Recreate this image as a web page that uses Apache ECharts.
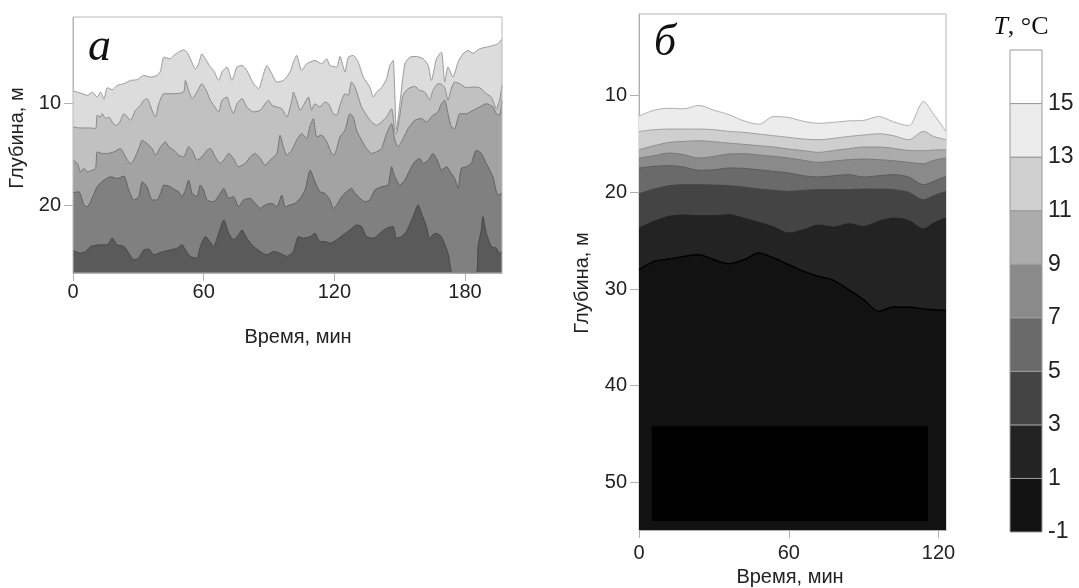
<!DOCTYPE html>
<html>
<head>
<meta charset="utf-8">
<script src="https://cdn.jsdelivr.net/npm/echarts@6/dist/echarts.min.js"></script>
<style>
html,body{margin:0;padding:0;background:#fff;}
#c{width:1079px;height:588px;}
</style>
</head>
<body>
<div id="c"></div>
<script>
// ---------- Panel а : isotherm depths [time, depth] ----------
const aL1 = [[0,8.76],[3.5,8.96],[6.6,9.18],[8.9,8.86],[11.1,9.35],[12.7,8.86],[14.2,9.57],[15.7,8.43],[18,8.63],[20.3,8.21],[23.4,8.04],[26.4,7.72],[29.5,7.65],[32.5,7.23],[35.6,7.39],[38.6,7.23],[40.2,6.81],[41.7,5.44],[44.7,5.6],[46.3,5.27],[48.5,4.95],[50.8,4.72],[52.4,4.95],[53.9,5.6],[56.2,6.58],[57.7,6.09],[59.2,5.11],[60.8,5.6],[63.1,6.41],[64.6,6.74],[66.9,7.72],[68.4,6.9],[70.7,6.41],[73,7.72],[75.3,6.41],[77.6,6.25],[79.8,6.74],[82.9,8.04],[85.2,8.53],[87.5,7.07],[89,6.25],[91.3,7.07],[93.6,7.88],[96.6,7.72],[99.7,6.9],[101.2,5.93],[102.7,5.27],[105,6.74],[107.3,6.09],[111.1,5.76],[114.2,6.09],[116.5,5.6],[118,6.25],[121.1,6.41],[122.6,5.37],[124.9,6.9],[126.4,5.44],[128.7,5.27],[131,5.93],[133.3,7.39],[136.3,8.37],[137.9,9.35],[139.4,8.86],[141.7,8.43],[144,7.55],[145.5,6.25],[147,5.76],[148.5,12.6],[150.1,10.0],[152.4,6.09],[154.7,5.44],[157.7,5.37],[160.8,5.6],[163.1,6.25],[164.6,7.72],[166.9,5.6],[169.2,4.95],[170.7,7.88],[172.2,6.41],[174.5,7.39],[176.8,5.93],[179.1,5.11],[181.4,4.79],[183.7,5.05],[186.7,4.62],[189.8,4.46],[192.8,4.3],[195.1,4.13],[197,3.65]];
const aL2 = [[0,12.28],[3.5,12.38],[8.1,12.38],[10.4,12.44],[11.1,11.14],[12.7,11.3],[13.4,10.98],[15,11.46],[16.5,11.3],[18,11.79],[19.5,12.12],[21.1,11.95],[23.4,10.98],[24.9,11.3],[26.4,11.63],[28.7,10.65],[31,10.16],[32.5,9.67],[34,9.51],[36.3,10.65],[37.9,11.3],[39.4,10.0],[41.7,9.02],[46.3,9.02],[50.8,8.86],[51.6,7.72],[53.1,8.69],[54.7,9.51],[56.9,8.86],[59.2,8.04],[60.8,8.53],[63.1,9.67],[64.6,10.16],[66.9,10.81],[68.4,9.67],[70.7,9.35],[72.2,10.32],[73.7,10.98],[75.3,10.0],[77.6,9.51],[79.8,10.32],[82.9,10.81],[86,10.65],[88.2,10.0],[89.8,9.67],[91.3,10.16],[93.6,10.32],[95.9,10.49],[98.2,11.3],[100.5,9.67],[101.2,8.86],[102.7,9.67],[104.3,10.65],[105.8,10.16],[108.1,9.35],[109.6,10.65],[111.1,10.0],[113.4,10.32],[115.7,9.83],[117.3,10.0],[119.5,10.98],[121.1,11.14],[122.6,10.16],[124.9,9.02],[126.4,9.18],[127.9,7.88],[129.5,8.37],[131,9.35],[132.5,10.32],[134.8,11.14],[137.1,11.79],[139.4,12.12],[141.7,11.79],[144,11.3],[146.3,10.49],[147.8,12.77],[148.5,12.93],[150.1,11.14],[151.6,9.18],[153.9,8.53],[156.9,8.3],[159.2,8.69],[161.5,8.86],[163.8,9.61],[165.3,8.69],[167.6,8.04],[169.2,8.1],[170.7,8.43],[172.2,9.67],[173.7,8.53],[175.3,7.88],[177.6,8.04],[180.6,8.43],[183.7,8.37],[186.7,8.43],[189.8,9.02],[192.1,9.35],[194.4,10.49],[195.9,9.67],[197,8.21]];
const aL3 = [[0,15.54],[2,15.86],[3.5,16.68],[5,16.35],[6.6,16.68],[8.9,16.51],[10.4,16.35],[11.1,14.72],[13.4,14.88],[15.7,14.88],[18.8,14.72],[21.8,14.4],[24.1,15.21],[26.4,15.86],[27.9,15.54],[30.2,14.4],[31.8,13.58],[34,13.91],[36.3,14.4],[37.9,15.05],[40.2,14.23],[42.4,13.74],[44,14.23],[46.3,14.56],[48.5,15.05],[50.8,15.21],[53.1,14.23],[54.7,14.56],[56.9,15.54],[59.2,15.21],[61.5,14.56],[63.1,14.4],[65.3,15.21],[67.6,15.86],[69.2,15.54],[71.5,14.88],[73.7,15.37],[76,16.19],[79.1,15.86],[81.4,15.21],[83.7,14.88],[86,15.37],[88.2,16.02],[90.5,15.54],[93.6,14.88],[95.1,13.09],[96.6,14.23],[98.2,15.05],[100.5,14.56],[102.7,13.58],[105,12.93],[107.3,13.42],[108.9,12.12],[110.4,11.46],[111.9,13.25],[114.2,13.09],[116.5,13.74],[118.8,14.88],[119.8,15.05],[121.1,14.4],[122.6,13.25],[124.9,12.6],[127.2,10.98],[128.7,11.3],[130.2,12.6],[132.5,13.58],[134.8,14.4],[137.1,14.88],[139.4,14.72],[141.7,14.4],[144,12.93],[146.3,11.95],[147.8,13.58],[149.3,14.23],[151.6,13.42],[153.9,12.44],[156.9,11.63],[160,11.46],[162.3,11.79],[165.3,11.14],[167.6,10.81],[169.2,10.0],[170.7,9.67],[172.2,10.98],[173.7,12.28],[175.3,12.44],[177.6,10.98],[180.6,10.98],[183.7,10.65],[186.7,10.32],[189.8,10.0],[192.8,10.32],[194.4,10.98],[195.9,11.14],[197,9.67]];
const aL4 = [[0,18.73],[2.7,18.63],[5,19.93],[6.6,20.1],[8.1,19.61],[11.1,18.14],[14.2,17.49],[17.3,17.16],[20.3,17.33],[23.4,17.1],[25.6,18.47],[27.9,19.44],[30.2,19.12],[31.8,17.65],[34,18.14],[36.3,19.44],[38.6,19.44],[40.2,18.79],[41.7,17.98],[44.7,18.14],[47,18.47],[48.5,18.63],[50.1,19.12],[51.6,18.47],[53.1,17.49],[54.7,18.79],[56.9,19.12],[58.5,17.98],[60,18.47],[61.5,19.44],[64.6,19.61],[67.6,18.79],[69.2,18.3],[71.5,19.28],[73.7,19.12],[76,20.1],[78.3,19.44],[81.4,19.28],[83.7,19.77],[86,20.26],[88.2,19.93],[91.3,19.77],[93.6,20.1],[95.9,18.96],[97.4,20.1],[99.7,19.93],[102,19.77],[104.3,19.28],[106.6,18.47],[108.9,16.51],[111.1,17.65],[113.4,18.63],[115.7,18.79],[118,19.44],[119.5,20.26],[121.1,19.93],[123.4,19.12],[125.6,18.63],[127.9,18.3],[129.5,18.79],[131.8,19.28],[134,19.61],[136.3,19.44],[138.6,18.47],[141.7,18.14],[144.7,17.98],[146.3,16.19],[147.8,17.16],[150.1,17.98],[152.4,17.49],[154.7,16.51],[156.9,15.7],[159.2,15.37],[160.8,15.86],[163.1,15.54],[165.3,14.88],[167.6,15.7],[169.2,16.51],[171.5,16.19],[173.7,16.84],[175.3,17.33],[176.8,18.3],[178.3,16.35],[180.6,16.19],[182.9,15.86],[185.2,14.56],[187.5,14.88],[189.8,15.86],[192.8,17.16],[195.1,18.96],[197,18.79]];
const aL5 = [[0,24.4],[3.5,24.66],[5.8,24.49],[8.1,24.0],[12.7,23.84],[15.7,23.84],[18,23.19],[20.3,23.84],[23.4,24.0],[25.6,24.66],[27.9,25.31],[30.2,25.14],[32.5,24.33],[34.8,24.26],[37.1,24.82],[39.4,24.66],[41.7,24.49],[44.7,24.33],[47.8,24.17],[50.1,23.84],[51.6,24.33],[53.9,24.98],[56.9,25.14],[58.5,24.0],[60.8,23.03],[62.3,23.35],[64.6,24.0],[66.9,22.7],[69.2,21.4],[71.5,22.7],[73.7,23.35],[76,22.86],[77.6,22.38],[79.8,23.19],[82.9,24.0],[86,24.49],[89,24.82],[92.1,24.49],[95.1,24.66],[98.2,24.98],[101.2,24.49],[103.5,23.03],[105.8,23.19],[108.9,23.03],[111.1,22.7],[113.4,23.52],[115.7,23.52],[118,23.68],[121.1,23.35],[124.1,22.86],[127.2,22.38],[130.2,21.89],[132.5,22.05],[134.8,23.03],[137.9,23.19],[140.9,22.7],[144,22.21],[147,22.05],[148.5,23.19],[150.8,23.03],[153.1,22.54],[156.2,21.07],[158.5,19.93],[160,20.75],[162.3,22.05],[163.8,23.19],[166.1,22.7],[168.4,22.86],[169.9,23.35],[172.2,24.66],[173.7,26.45],[174.5,26.6],[185.2,26.6],[186,24.0],[187.5,22.38],[188.2,21.07],[189.8,22.7],[192.1,24.0],[194.4,24.17],[195.9,24.66],[197,24.49]];

// ---------- Panel б : isotherm depths on a shared time grid ----------
const bTime = [0,6,12,18,24,30,36,42,48,54,60,66,72,78,84,90,96,102,108,114,118,123];
const bL1 = [12.1,11.5,11.3,11.35,11.0,11.5,11.95,12.6,12.95,12.15,12.25,12.65,12.85,12.75,12.6,12.55,12.15,12.7,13.1,10.6,11.9,13.7];
const bL2 = [13.69,13.52,13.45,13.45,13.45,13.52,13.69,13.79,13.97,14.14,14.31,14.48,14.55,14.41,14.21,14.07,13.93,14.14,14.55,13.69,14.21,14.55];
const bL3 = [15.59,15.17,14.83,14.72,14.66,14.76,14.9,15.03,15.17,15.31,15.52,15.69,15.86,15.66,15.48,15.31,15.31,15.45,15.66,15.69,15.62,15.59];
const bL4 = [16.45,16.21,15.93,16.1,16.45,16.28,16.03,16.0,16.14,16.28,16.45,16.69,16.9,16.76,16.62,16.55,16.62,16.72,16.9,17.03,16.69,16.45];
const bL5 = [17.48,17.31,17.24,17.38,17.72,17.66,17.48,17.52,17.66,17.83,18.0,18.28,18.41,18.28,18.17,18.41,18.28,18.17,18.41,19.21,18.86,18.34];
const bL6 = [20.14,19.66,19.31,19.21,19.21,19.24,19.31,19.45,19.66,19.79,19.9,19.79,19.72,19.72,19.72,19.66,19.66,19.72,20.0,20.76,20.34,19.9];
const bL7 = [23.69,23.0,22.48,22.35,22.41,22.41,22.31,22.66,23.1,23.59,24.21,23.86,23.38,23.59,23.24,23.52,23.0,22.66,22.9,23.79,23.17,22.66];
const bL8 = [28.0,27.14,26.9,26.62,26.45,26.97,27.38,26.97,26.28,26.79,27.48,28.17,28.69,29.1,30.07,31.1,32.31,31.86,31.86,32.07,32.14,32.21];
const bBlock = [5.1, 115.8, 44.2, 54.0]; // black region: time from, time to, depth from, depth to

// ---------- tick labels & colour scale ----------
const aXTicks = [0,60,120,180];
const aYTicks = [10,20];
const bXTicks = [0,60,120];
const bYTicks = [10,20,30,40,50];
const levels = [-1,1,3,5,7,9,11,13,15,17];
const levelLabels = [-1,1,3,5,7,9,11,13,15];

// styles
const aFill = ['#dcdcdc','#c1c1c1','#a3a3a3','#808080','#5a5a5a'];
const aStroke = ['#9a9a9a','#8a8a8a','#777777','#606060','#484848'];
const bandColors = ['#121212','#232323','#444444','#6a6a6a','#8a8a8a','#acacac','#cfcfcf','#ececec','#ffffff'];
const bFill = ['#ececec','#cfcfcf','#acacac','#8a8a8a','#6a6a6a','#444444','#232323','#121212'];
const bStroke = ['#b0b0b0','#a0a0a0','#8e8e8e','#777777','#5a5a5a','#444444','#232323','#000000'];

const labelFont = {fontFamily:'Liberation Sans, Arial, sans-serif', fontSize:20, color:'#222'};

function axisX(grid, max, ticks, margin){
  return {gridIndex:grid, type:'value', min:0, max:max,
    axisLine:{show:true, onZero:false, lineStyle:{color:'#b0b0b0'}},
    axisTick:{show:true, length:8, lineStyle:{color:'#b0b0b0'}, customValues:ticks},
    axisLabel:Object.assign({customValues:ticks, margin:margin}, labelFont),
    splitLine:{show:false}};
}
function axisY(grid, min, max, ticks){
  return {gridIndex:grid, type:'value', min:min, max:max, inverse:true,
    axisLine:{show:true, onZero:false, lineStyle:{color:'#b0b0b0'}},
    axisTick:{show:true, length:9, lineStyle:{color:'#b0b0b0'}, customValues:ticks},
    axisLabel:Object.assign({customValues:ticks, margin:12}, labelFont),
    splitLine:{show:false}};
}

const series = [];
[aL1,aL2,aL3,aL4,aL5].forEach((d,i)=>{
  series.push({type:'line', xAxisIndex:0, yAxisIndex:0, data:d, smooth:0.2, symbol:'none',
    lineStyle:{color:aStroke[i], width:1}, areaStyle:{color:aFill[i], opacity:1, origin:'end'}, z:2+i});
});
[bL1,bL2,bL3,bL4,bL5,bL6,bL7,bL8].forEach((d,i)=>{
  series.push({type:'line', xAxisIndex:1, yAxisIndex:1, data:bTime.map((t,k)=>[t,d[k]]), smooth:0.3, symbol:'none',
    lineStyle:{color:bStroke[i], width:i===7?1.4:1}, areaStyle:{color:bFill[i], opacity:1, origin:'end'}, z:2+i});
});
// black block in panel б
series.push({type:'custom', xAxisIndex:1, yAxisIndex:1, data:[bBlock], encode:{x:[0,1], y:[2,3]}, z:20,
  renderItem:function(params, api){
    const p1 = api.coord([api.value(0), api.value(2)]);
    const p2 = api.coord([api.value(1), api.value(3)]);
    return {type:'rect', shape:{x:p1[0], y:p1[1], width:p2[0]-p1[0], height:p2[1]-p1[1]}, style:{fill:'#000'}};
  }});
// colour scale
series.push({type:'custom', xAxisIndex:2, yAxisIndex:2,
  data: levels.slice(0,-1).map((lo,i)=>[0, lo, levels[i+1], i]),
  encode:{x:0, y:[1,2]},
  renderItem:function(params, api){
    const lo = api.value(1), hi = api.value(2), idx = api.value(3);
    const p1 = api.coord([0, hi]);
    const p2 = api.coord([1, lo]);
    return {type:'rect', shape:{x:p1[0], y:p1[1], width:p2[0]-p1[0], height:p2[1]-p1[1]},
      style:{fill:bandColors[idx], stroke:'#9a9a9a', lineWidth:1}};
  }, z:5});

const option = {
  animation:false,
  backgroundColor:'#fff',
  grid:[
    {left:73, top:17, width:429, height:256, show:true, borderColor:'#b8b8b8', borderWidth:1, z:10},
    {left:639, top:14, width:307, height:516, show:true, borderColor:'#b8b8b8', borderWidth:1},
    {left:1010, top:50, width:32, height:482}
  ],
  xAxis:[
    axisX(0, 197, aXTicks, 9),
    axisX(1, 123, bXTicks, 13),
    {gridIndex:2, type:'value', min:0, max:1, show:false}
  ],
  yAxis:[
    axisY(0, 1.5, 26.6, aYTicks),
    axisY(1, 1.54, 54.94, bYTicks),
    {gridIndex:2, type:'value', min:-1, max:17, position:'right',
      axisLine:{show:false}, axisTick:{show:false}, splitLine:{show:false},
      axisLabel:{customValues:levelLabels, margin:6, fontFamily:'Liberation Sans, Arial, sans-serif', fontSize:23, color:'#222'}}
  ],
  series:series,
  graphic:[
    {type:'text', left:88, top:25, style:{text:'а', font:'italic 46px "Liberation Serif", "Times New Roman", serif', fill:'#111'}},
    {type:'text', left:654, top:21, style:{text:'б', font:'italic 44px "Liberation Serif", "Times New Roman", serif', fill:'#111'}},
    {type:'text', x:1021, y:27, style:{text:'{t|T}{n|, °C}', align:'center', verticalAlign:'middle',
      rich:{t:{font:'italic 26px "Liberation Serif", serif', fill:'#111'}, n:{font:'26px "Liberation Serif", serif', fill:'#111'}}}},
    {type:'text', x:298, y:337, style:{text:'Время, мин', align:'center', verticalAlign:'middle', font:'20px "Liberation Sans", Arial, sans-serif', fill:'#222'}},
    {type:'text', x:790, y:577, style:{text:'Время, мин', align:'center', verticalAlign:'middle', font:'20px "Liberation Sans", Arial, sans-serif', fill:'#222'}},
    {type:'text', x:17, y:138, rotation:Math.PI/2, style:{text:'Глубина, м', align:'center', verticalAlign:'middle', font:'20px "Liberation Sans", Arial, sans-serif', fill:'#222'}},
    {type:'text', x:582, y:283, rotation:Math.PI/2, style:{text:'Глубина, м', align:'center', verticalAlign:'middle', font:'20px "Liberation Sans", Arial, sans-serif', fill:'#222'}}
  ]
};
const chart = echarts.init(document.getElementById('c'), null, {renderer:'canvas'});
chart.setOption(option);
</script>
</body>
</html>
